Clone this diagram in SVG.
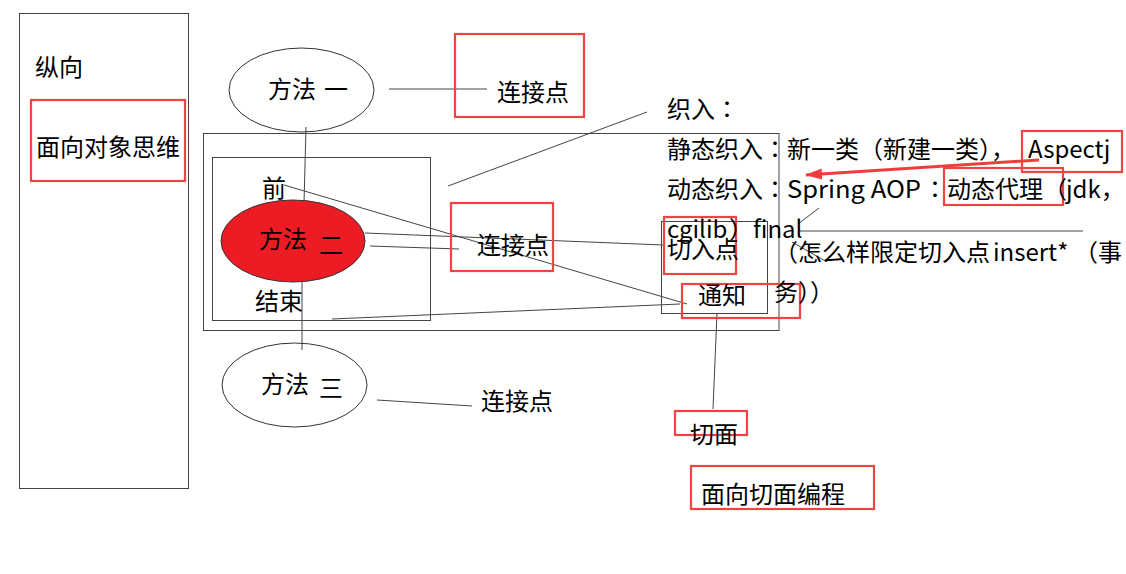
<svg xmlns="http://www.w3.org/2000/svg" width="1126" height="574" viewBox="0 0 1126 574">
<defs>
<style>
.t{font-family:"Noto Sans CJK SC","Noto Sans",sans-serif;font-size:24px;fill:#000}
.c{font-family:"Noto Sans CJK TC","Noto Sans CJK SC",sans-serif}
.box{fill:none;stroke:#444;stroke-width:1}
.red{fill:none;stroke:#f04343;stroke-width:2.2}
.ell{fill:none;stroke:#333;stroke-width:1}
.ln{stroke:#444;stroke-width:1;fill:none}
</style>
<marker id="ah" viewBox="0 0 17 11" refX="16" refY="5.5" markerWidth="17" markerHeight="11" markerUnits="userSpaceOnUse" orient="auto">
<path d="M0,0 L17,5.5 L0,11 Z" fill="#f03c3c"/>
</marker>
</defs>
<rect width="1126" height="574" fill="#fff"/>

<g id="connectors">
<line class="ln" x1="306" y1="127" x2="304" y2="203"/>
<line class="ln" x1="302" y1="282" x2="302" y2="350"/>
<line class="ln" x1="389" y1="89" x2="487" y2="89"/>
<line class="ln" x1="284" y1="185" x2="687" y2="304"/>
<line class="ln" x1="365" y1="233" x2="663" y2="245"/>
<line class="ln" x1="370" y1="246" x2="459" y2="249"/>
<line class="ln" x1="332" y1="319" x2="680" y2="304"/>
<line class="ln" x1="448" y1="186" x2="647" y2="112"/>
<line class="ln" x1="717" y1="313" x2="713" y2="409"/>
<line class="ln" x1="377" y1="400" x2="472" y2="406"/>
<line class="ln" x1="798" y1="224" x2="819" y2="208"/>
<line class="ln" x1="800" y1="231" x2="1083" y2="231"/>
<line class="ln" x1="792" y1="242" x2="827" y2="262"/>
<line x1="1039" y1="160" x2="806" y2="175" stroke="#f03c3c" stroke-width="3" marker-end="url(#ah)"/>
</g>

<g id="left-panel">
<rect class="box" x="19.5" y="13.5" width="169" height="475"/>
<text class="t" x="35" y="76">纵向</text>
</g>
<g id="oop">
<rect class="red" x="31" y="100" width="154" height="81"/>
<text class="t" x="36" y="156">面向对象思维</text>
</g>

<g id="outer-frame"><rect class="box" x="203.5" y="133.5" width="575.5" height="197"/></g>
<g id="inner-frame"><rect class="box" x="212.5" y="157.5" width="218" height="163"/></g>
<g id="aspect-frame"><rect class="box" x="661.5" y="221.5" width="106" height="92"/></g>

<g id="method1">
<ellipse class="ell" cx="301.5" cy="90" rx="72.5" ry="42"/>
<text class="t" x="268" y="98">方法<tspan x="324">一</tspan></text>
</g>
<g id="method2">
<ellipse cx="293" cy="241" rx="72" ry="41" fill="#ed1c24" stroke="#333" stroke-width="1"/>
<text class="t" x="259" y="248">方法<tspan x="319" dy="6">二</tspan></text>
</g>
<g id="method3">
<ellipse class="ell" cx="294.5" cy="385" rx="72.5" ry="42"/>
<text class="t" x="261" y="393">方法<tspan x="319" dy="4">三</tspan></text>
</g>

<g id="before"><text class="t" x="262" y="197">前</text></g>
<g id="end"><text class="t" x="255" y="310">结束</text></g>

<g id="joinpoint1">
<rect class="red" x="455" y="34" width="129" height="83"/>
<text class="t" x="497" y="101">连接点</text>
</g>
<g id="joinpoint2">
<rect class="red" x="451" y="203" width="102" height="68"/>
<text class="t" x="477" y="254">连接点</text>
</g>
<g id="joinpoint3">
<text class="t" x="481" y="410">连接点</text>
</g>

<g id="pointcut">
<rect class="red" x="664" y="217" width="72" height="57"/>
<text class="t" x="667" y="258">切入点</text>
</g>
<g id="advice">
<rect class="red" x="682" y="284" width="118" height="34"/>
<text class="t" x="698" y="304">通知</text>
</g>
<g id="aspect">
<rect class="red" x="675" y="411" width="72" height="24"/>
<text class="t" x="690" y="443">切面</text>
</g>
<g id="aop">
<rect class="red" x="691" y="466" width="183" height="43"/>
<text class="t" x="701" y="503">面向切面编程</text>
</g>

<g id="weaving">
<rect class="red" x="1022" y="131" width="100" height="41"/>
<rect class="red" x="944" y="168" width="119" height="37"/>
<text class="t" x="667" y="118">织入<tspan class="c">：</tspan></text>
<text class="t" x="667" y="158">静态织入<tspan class="c">：</tspan>新一类（新建一类），<tspan x="1028">Aspectj</tspan></text>
<text class="t" x="667" y="198">动态织入<tspan class="c">：</tspan><tspan x="787" textLength="134" lengthAdjust="spacingAndGlyphs">Spring AOP</tspan><tspan x="923" class="c">：</tspan>动态代理（<tspan x="1066">jdk，</tspan></text>
<text class="t" x="667" y="238">cgilib<tspan x="729">）final</tspan></text>
<text class="t" x="774" y="261">（怎么样限定切入点<tspan x="993">insert*</tspan><tspan x="1074">（事</tspan></text>
<text class="t" x="774" y="301">务））</text>
</g>
</svg>
